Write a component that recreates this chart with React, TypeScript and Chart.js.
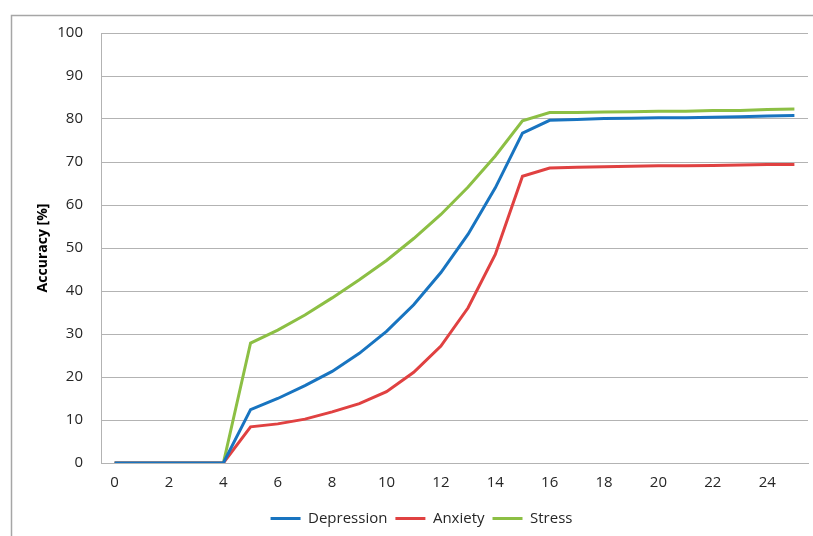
import React, { useEffect, useRef } from "react";
import { Chart, registerables } from "chart.js";

Chart.register(...registerables);

const epochs = ["0","1","2","3","4","5","6","7","8","9","10","11","12","13","14","15","16","17","18","19","20","21","22","23","24","25"];
const depression = [0,0,0,0,0,12.4,15,18,21.3,25.5,30.6,36.8,44.3,53.2,64,76.7,79.7,79.9,80.1,80.2,80.3,80.3,80.4,80.5,80.7,80.8];
const anxiety = [0,0,0,0,0,8.4,9.1,10.2,11.9,13.8,16.6,21.1,27.2,36.1,48.5,66.7,68.6,68.8,68.9,69,69.1,69.1,69.2,69.3,69.4,69.4];
const stress = [0,0,0,0,0,27.9,30.9,34.4,38.4,42.6,47.1,52.2,57.8,64.2,71.4,79.6,81.5,81.5,81.6,81.7,81.8,81.8,82,82,82.2,82.3];
const yTicks = { min: 0, max: 100, step: 10 };

const FONT = "'Open Sans', 'Noto Sans', sans-serif";

const frame = {
  id: "frame",
  beforeDraw(chart: any) {
    const ctx = chart.ctx;
    ctx.save();
    ctx.strokeStyle = "#a6a6a6";
    ctx.lineWidth = 1.5;
    ctx.beginPath();
    ctx.moveTo(11.5, 536);
    ctx.lineTo(11.5, 15.5);
    ctx.lineTo(813, 15.5);
    ctx.stroke();
    ctx.restore();
  },
};

export default function App() {
  const ref = useRef<HTMLCanvasElement | null>(null);
  useEffect(() => {
    if (!ref.current) return;
    const mk = (label: string, data: number[], color: string) => ({
      label,
      data,
      borderColor: color,
      backgroundColor: color,
      borderWidth: 3,
      pointRadius: 0,
      tension: 0,
    });
    const chart = new Chart(ref.current, {
      type: "line",
      data: {
        labels: epochs,
        datasets: [
          mk("Depression", depression, "#1874C0"),
          mk("Anxiety", anxiety, "#E04141"),
          mk("Stress", stress, "#8CBF44"),
        ],
      },
      plugins: [frame],
      options: {
        responsive: false,
        animation: false,
        layout: { padding: { left: 35, right: 5, top: 33, bottom: 0 } },
        plugins: {
          tooltip: { enabled: false },
          legend: {
            position: "bottom",
            labels: {
              boxWidth: 30,
              boxHeight: 3,
              padding: 8,
              color: "#262626",
              font: { family: FONT, size: 15 },
              generateLabels(c: any) {
                const items = Chart.defaults.plugins.legend.labels.generateLabels(c);
                return items.map((it: any) => ({ ...it, lineWidth: 0 }));
              },
            },
          },
        },
        scales: {
          x: {
            type: "category",
            offset: true,
            grid: { display: false, drawTicks: false },
            border: { color: "#b3b3b3", width: 1 },
            ticks: {
              autoSkip: false,
              maxRotation: 0,
              padding: 11,
              color: "#262626",
              font: { family: FONT, size: 15 },
              callback(this: any, v: any, i: number) {
                return i % 2 === 0 ? this.getLabelForValue(v) : "";
              },
            },
          },
          y: {
            min: yTicks.min,
            max: yTicks.max,
            afterFit(s: any) { s.width = 66; },
            grid: { color: "#b3b3b3", drawTicks: false },
            border: { color: "#b3b3b3", width: 1 },
            ticks: {
              stepSize: yTicks.step,
              padding: 18,
              color: "#262626",
              font: { family: FONT, size: 15 },
            },
            title: {
              display: true,
              text: "Accuracy [%]",
              color: "#000",
              font: { family: FONT, size: 14, weight: "bold" },
              padding: 0,
            },
          },
        },
      },
    });
    return () => chart.destroy();
  }, []);
  return (
    <div style={{ position: "fixed", left: 0, top: 0, width: 813, height: 536, background: "#fff" }}>
      <canvas ref={ref} width={813} height={536} style={{ display: "block" }} />
    </div>
  );
}
